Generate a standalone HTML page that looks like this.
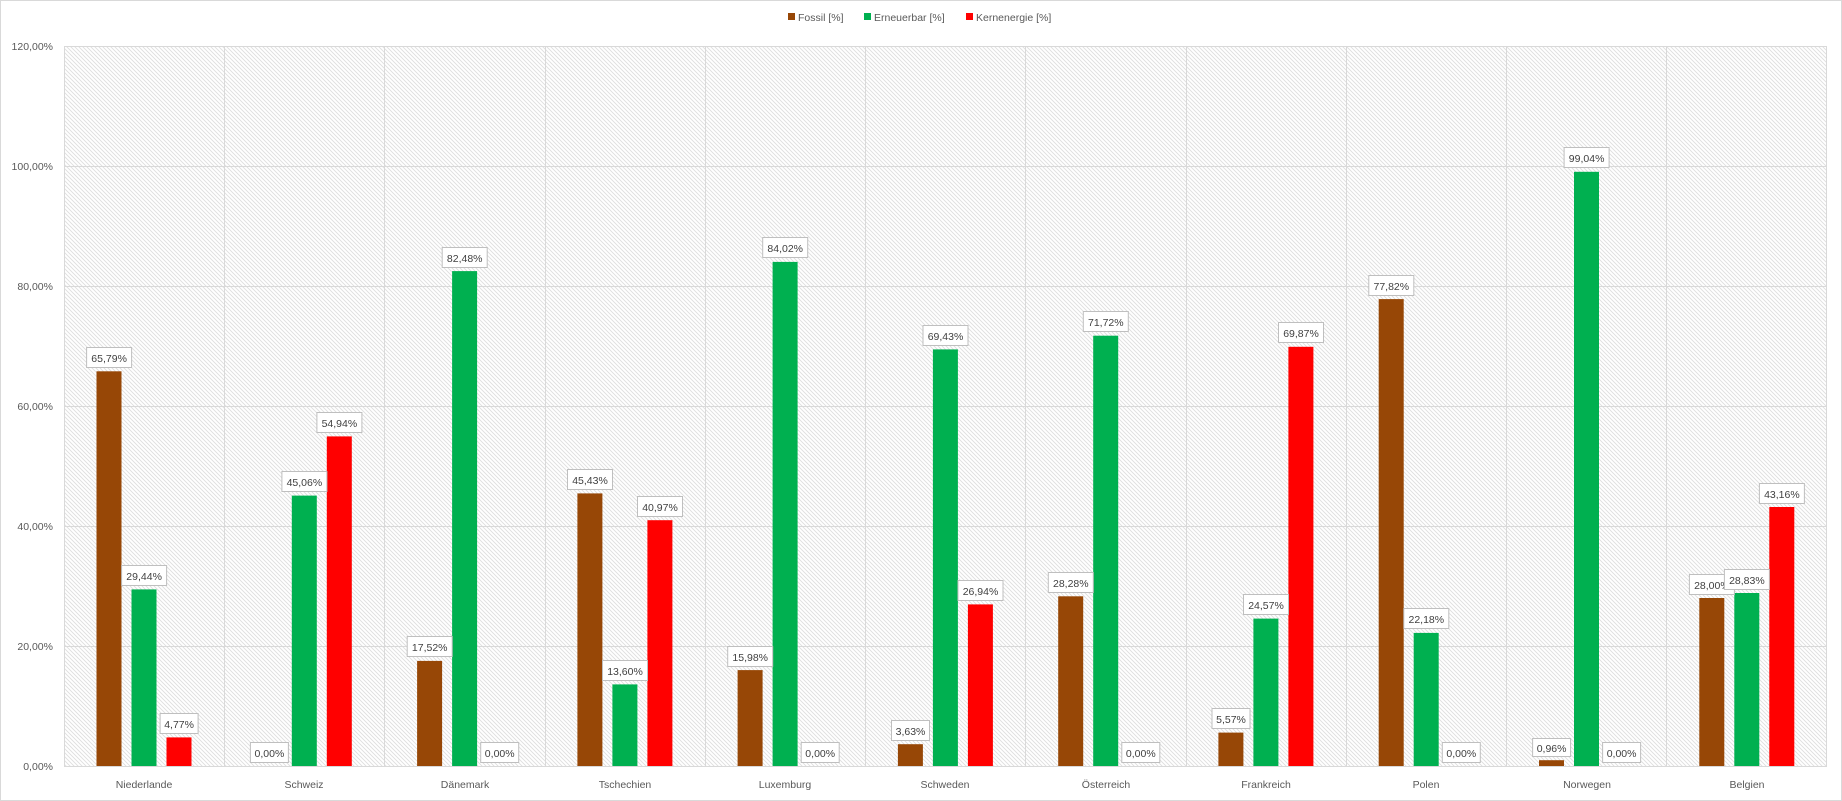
<!DOCTYPE html>
<html><head><meta charset="utf-8"><style>
html,body{margin:0;padding:0;background:#fff}
svg{display:block;font-family:"Liberation Sans",sans-serif}
.t{font-size:10.5px;fill:#595959}
.lb rect{fill:#fff;stroke:#bfbfbf;stroke-width:1}
.lb text{font-size:10.5px;fill:#404040;text-anchor:middle}
</style></head><body>
<svg width="1842" height="801" viewBox="0 0 1842 801">
<defs>
<pattern id="h" width="4" height="4" patternUnits="userSpaceOnUse">
<rect width="4" height="4" fill="#fff"/>
<path d="M-1,-1 L5,5 M-1,3 L1,5 M3,-1 L5,1" stroke="#dedede" stroke-width="0.9"/>
</pattern>
</defs>
<rect x="0.5" y="0.5" width="1841" height="800" fill="#fff" stroke="#d9d9d9"/>
<rect x="788" y="13" width="7" height="7" fill="#974706"/>
<text class="t" x="798" y="21">Fossil [%]</text>
<rect x="864" y="13" width="7" height="7" fill="#00b050"/>
<text class="t" x="874" y="21">Erneuerbar [%]</text>
<rect x="966" y="13" width="7" height="7" fill="#ff0000"/>
<text class="t" x="976" y="21">Kernenergie [%]</text>
<rect x="64" y="46" width="1763" height="720" fill="url(#h)"/>
<g stroke="#d9d9d9" stroke-width="1">
<line x1="64" y1="46.5" x2="1827" y2="46.5"/>
<line x1="64" y1="166.5" x2="1827" y2="166.5"/>
<line x1="64" y1="286.5" x2="1827" y2="286.5"/>
<line x1="64" y1="406.5" x2="1827" y2="406.5"/>
<line x1="64" y1="526.5" x2="1827" y2="526.5"/>
<line x1="64" y1="646.5" x2="1827" y2="646.5"/>
<line x1="64" y1="766.5" x2="1827" y2="766.5"/>
<line x1="64.5" y1="46" x2="64.5" y2="767"/>
<line x1="224.5" y1="46" x2="224.5" y2="767"/>
<line x1="384.5" y1="46" x2="384.5" y2="767"/>
<line x1="545.5" y1="46" x2="545.5" y2="767"/>
<line x1="705.5" y1="46" x2="705.5" y2="767"/>
<line x1="865.5" y1="46" x2="865.5" y2="767"/>
<line x1="1025.5" y1="46" x2="1025.5" y2="767"/>
<line x1="1186.5" y1="46" x2="1186.5" y2="767"/>
<line x1="1346.5" y1="46" x2="1346.5" y2="767"/>
<line x1="1506.5" y1="46" x2="1506.5" y2="767"/>
<line x1="1666.5" y1="46" x2="1666.5" y2="767"/>
<line x1="1826.5" y1="46" x2="1826.5" y2="767"/>
</g>
<g class="t" text-anchor="end">
<text x="53" y="50">120,00%</text>
<text x="53" y="170">100,00%</text>
<text x="53" y="290">80,00%</text>
<text x="53" y="410">60,00%</text>
<text x="53" y="530">40,00%</text>
<text x="53" y="650">20,00%</text>
<text x="53" y="770">0,00%</text>
</g>
<g class="t" text-anchor="middle">
<text x="144" y="788">Niederlande</text>
<text x="304" y="788">Schweiz</text>
<text x="465" y="788">Dänemark</text>
<text x="625" y="788">Tschechien</text>
<text x="785" y="788">Luxemburg</text>
<text x="945" y="788">Schweden</text>
<text x="1106" y="788">Österreich</text>
<text x="1266" y="788">Frankreich</text>
<text x="1426" y="788">Polen</text>
<text x="1587" y="788">Norwegen</text>
<text x="1747" y="788">Belgien</text>
</g>
<g>
<g transform="translate(144.1,0)">
<rect x="-47.6" y="371.3" width="25" height="394.7" fill="#974706"/>
<rect x="-12.6" y="589.4" width="25" height="176.6" fill="#00b050"/>
<rect x="22.4" y="737.4" width="25" height="28.6" fill="#ff0000"/>
<g class="lb"><rect x="-57.5" y="347.5" width="45" height="20"/><text x="-35" y="362">65,79%</text>
<rect x="-22.5" y="565.5" width="45" height="20"/><text x="0" y="580">29,44%</text>
<rect x="16" y="713.5" width="38" height="20"/><text x="35" y="728">4,77%</text></g>
</g>
<g transform="translate(304.4,0)">
<rect x="-12.6" y="495.6" width="25" height="270.4" fill="#00b050"/>
<rect x="22.4" y="436.4" width="25" height="329.6" fill="#ff0000"/>
<g class="lb"><rect x="-54" y="742.5" width="38" height="20"/><text x="-35" y="757">0,00%</text>
<rect x="-22.5" y="471.5" width="45" height="20"/><text x="0" y="486">45,06%</text>
<rect x="12.5" y="412.5" width="45" height="20"/><text x="35" y="427">54,94%</text></g>
</g>
<g transform="translate(464.7,0)">
<rect x="-47.6" y="660.9" width="25" height="105.1" fill="#974706"/>
<rect x="-12.6" y="271.1" width="25" height="494.9" fill="#00b050"/>
<g class="lb"><rect x="-57.5" y="636.5" width="45" height="20"/><text x="-35" y="651">17,52%</text>
<rect x="-22.5" y="247.5" width="45" height="20"/><text x="0" y="262">82,48%</text>
<rect x="16" y="742.5" width="38" height="20"/><text x="35" y="757">0,00%</text></g>
</g>
<g transform="translate(625,0)">
<rect x="-47.6" y="493.4" width="25" height="272.6" fill="#974706"/>
<rect x="-12.6" y="684.4" width="25" height="81.6" fill="#00b050"/>
<rect x="22.4" y="520.2" width="25" height="245.8" fill="#ff0000"/>
<g class="lb"><rect x="-57.5" y="469.5" width="45" height="20"/><text x="-35" y="484">45,43%</text>
<rect x="-22.5" y="660.5" width="45" height="20"/><text x="0" y="675">13,60%</text>
<rect x="12.5" y="496.5" width="45" height="20"/><text x="35" y="511">40,97%</text></g>
</g>
<g transform="translate(785.2,0)">
<rect x="-47.6" y="670.1" width="25" height="95.9" fill="#974706"/>
<rect x="-12.6" y="261.9" width="25" height="504.1" fill="#00b050"/>
<g class="lb"><rect x="-57.5" y="646.5" width="45" height="20"/><text x="-35" y="661">15,98%</text>
<rect x="-22.5" y="237.5" width="45" height="20"/><text x="0" y="252">84,02%</text>
<rect x="16" y="742.5" width="38" height="20"/><text x="35" y="757">0,00%</text></g>
</g>
<g transform="translate(945.5,0)">
<rect x="-47.6" y="744.2" width="25" height="21.8" fill="#974706"/>
<rect x="-12.6" y="349.4" width="25" height="416.6" fill="#00b050"/>
<rect x="22.4" y="604.4" width="25" height="161.6" fill="#ff0000"/>
<g class="lb"><rect x="-54" y="720.5" width="38" height="20"/><text x="-35" y="735">3,63%</text>
<rect x="-22.5" y="325.5" width="45" height="20"/><text x="0" y="340">69,43%</text>
<rect x="12.5" y="580.5" width="45" height="20"/><text x="35" y="595">26,94%</text></g>
</g>
<g transform="translate(1105.8,0)">
<rect x="-47.6" y="596.3" width="25" height="169.7" fill="#974706"/>
<rect x="-12.6" y="335.7" width="25" height="430.3" fill="#00b050"/>
<g class="lb"><rect x="-57.5" y="572.5" width="45" height="20"/><text x="-35" y="587">28,28%</text>
<rect x="-22.5" y="311.5" width="45" height="20"/><text x="0" y="326">71,72%</text>
<rect x="16" y="742.5" width="38" height="20"/><text x="35" y="757">0,00%</text></g>
</g>
<g transform="translate(1266,0)">
<rect x="-47.6" y="732.6" width="25" height="33.4" fill="#974706"/>
<rect x="-12.6" y="618.6" width="25" height="147.4" fill="#00b050"/>
<rect x="22.4" y="346.8" width="25" height="419.2" fill="#ff0000"/>
<g class="lb"><rect x="-54" y="708.5" width="38" height="20"/><text x="-35" y="723">5,57%</text>
<rect x="-22.5" y="594.5" width="45" height="20"/><text x="0" y="609">24,57%</text>
<rect x="12.5" y="322.5" width="45" height="20"/><text x="35" y="337">69,87%</text></g>
</g>
<g transform="translate(1426.3,0)">
<rect x="-47.6" y="299.1" width="25" height="466.9" fill="#974706"/>
<rect x="-12.6" y="632.9" width="25" height="133.1" fill="#00b050"/>
<g class="lb"><rect x="-57.5" y="275.5" width="45" height="20"/><text x="-35" y="290">77,82%</text>
<rect x="-22.5" y="608.5" width="45" height="20"/><text x="0" y="623">22,18%</text>
<rect x="16" y="742.5" width="38" height="20"/><text x="35" y="757">0,00%</text></g>
</g>
<g transform="translate(1586.6,0)">
<rect x="-47.6" y="760.2" width="25" height="5.8" fill="#974706"/>
<rect x="-12.6" y="171.8" width="25" height="594.2" fill="#00b050"/>
<g class="lb"><rect x="-54" y="738.5" width="38" height="18"/><text x="-35" y="752">0,96%</text>
<rect x="-22.5" y="147.5" width="45" height="20"/><text x="0" y="162">99,04%</text>
<rect x="16" y="742.5" width="38" height="20"/><text x="35" y="757">0,00%</text></g>
</g>
<g transform="translate(1746.9,0)">
<rect x="-47.6" y="598" width="25" height="168" fill="#974706"/>
<rect x="-12.6" y="593" width="25" height="173" fill="#00b050"/>
<rect x="22.4" y="507" width="25" height="259" fill="#ff0000"/>
<g class="lb"><rect x="-57.5" y="574.5" width="45" height="20"/><text x="-35" y="589">28,00%</text>
<rect x="-22.5" y="569.5" width="45" height="20"/><text x="0" y="584">28,83%</text>
<rect x="12.5" y="483.5" width="45" height="20"/><text x="35" y="498">43,16%</text></g>
</g>
</g>
</svg>
</body></html>
